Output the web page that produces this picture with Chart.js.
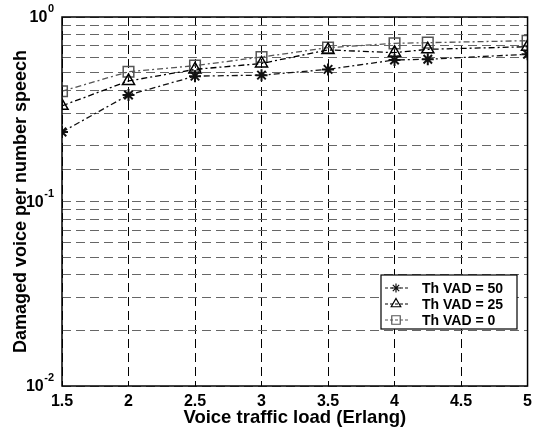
<!DOCTYPE html>
<html>
<head>
<meta charset="utf-8">
<script src="https://cdn.jsdelivr.net/npm/chart.js@4/dist/chart.umd.min.js"></script>
<style>
  html, body { margin: 0; padding: 0; background: #fff; }
  #wrap { width: 538px; height: 429px; }
</style>
</head>
<body>
<div id="wrap"><canvas id="graf"></canvas></div>
<script>
// datos
const cargaVoz = [1.5, 2, 2.5, 3, 3.5, 4, 4.25, 5];
const vad50 = [0.238, 0.378, 0.478, 0.484, 0.52, 0.585, 0.59, 0.628];
const vad25 = [0.33, 0.45, 0.52, 0.56, 0.663, 0.641, 0.668, 0.69];
const vad0 = [0.396, 0.505, 0.545, 0.607, 0.682, 0.72, 0.726, 0.744];
const etiquetas = ['Th VAD = 50', 'Th VAD = 25', 'Th VAD = 0'];
const ticksX = [1.5, 2, 2.5, 3, 3.5, 4, 4.5, 5];
const decadasY = [-2, -1, 0];

const fuente = '"Liberation Sans", Arial, sans-serif';
const rayaPunto = [6, 3, 2, 3];

function serie(nombre, valores, estilo, color, radio, grosor) {
    return {
        label: nombre,
        data: cargaVoz.map((x, i) => ({ x: x, y: valores[i] })),
        borderColor: color,
        backgroundColor: 'rgba(0,0,0,0)',
        borderWidth: 1.3,
        borderDash: rayaPunto,
        pointStyle: estilo,
        pointRadius: radio,
        pointBorderColor: color,
        pointBackgroundColor: 'rgba(0,0,0,0)',
        pointBorderWidth: grosor,
        tension: 0
    };
}

// marco, etiquetas 10^n del eje y y leyenda dibujada a mano
const marcoYLeyenda = {
    id: 'marcoYLeyenda',
    afterDraw(chart) {
        const { ctx, chartArea: a } = chart;
        ctx.save();
        ctx.strokeStyle = '#000';
        ctx.lineWidth = 1.5;
        ctx.setLineDash([]);
        ctx.strokeRect(a.left, a.top, a.right - a.left, a.bottom - a.top);

        // etiquetas del eje y con exponente
        const escY = chart.scales.y;
        ctx.fillStyle = '#000';
        ctx.textBaseline = 'middle';
        decadasY.forEach(e => {
            const y = escY.getPixelForValue(Math.pow(10, e));
            const exp = String(e);
            ctx.font = 'bold 11px ' + fuente;
            const wExp = ctx.measureText(exp).width;
            ctx.textAlign = 'left';
            const xExp = 54 - wExp;
            ctx.fillText(exp, xExp, y - 8);
            ctx.font = 'bold 16px ' + fuente;
            ctx.textAlign = 'right';
            ctx.fillText('10', xExp - 0.5, y + 1);
        });

        // caja de la leyenda
        const lx = 381, ly = 275, lw = 136, lh = 54;
        ctx.fillStyle = '#fff';
        ctx.fillRect(lx, ly, lw, lh);
        ctx.strokeStyle = '#000';
        ctx.lineWidth = 1.2;
        ctx.strokeRect(lx, ly, lw, lh);
        ctx.font = 'bold 14px ' + fuente;
        ctx.textAlign = 'left';
        chart.data.datasets.forEach((ds, i) => {
            const y = ly + 13 + i * 16;
            ctx.strokeStyle = ds.borderColor;
            ctx.lineWidth = 1.2;
            ctx.setLineDash([3, 2]);
            ctx.beginPath();
            ctx.moveTo(lx + 4, y);
            ctx.lineTo(lx + 27, y);
            ctx.stroke();
            ctx.setLineDash([]);
            ctx.fillStyle = 'rgba(0,0,0,0)';
            Chart.helpers.drawPoint(ctx, {
                pointStyle: ds.pointStyle, radius: ds.pointRadius - 1.5,
                borderWidth: 1.3, rotation: 0
            }, lx + 15, y);
            ctx.fillStyle = '#000';
            ctx.fillText(ds.label, lx + 41, y + 1);
        });
        ctx.restore();
    }
};

const ctx = document.getElementById('graf').getContext('2d');
new Chart(ctx, {
    type: 'line',
    data: {
        datasets: [
            serie(etiquetas[0], vad50, 'star', '#111', 6, 2),
            serie(etiquetas[1], vad25, 'triangle', '#000', 7, 1.5),
            serie(etiquetas[2], vad0, 'rect', '#555', 7.5, 1.5)
        ]
    },
    options: {
        responsive: true,
        maintainAspectRatio: false,
        animation: false,
        layout: { padding: { top: 17, right: 9, left: 0, bottom: 0 } },
        plugins: {
            legend: { display: false },
            tooltip: { enabled: false }
        },
        scales: {
            x: {
                type: 'linear',
                min: 1.5,
                max: 5,
                afterFit(s) { s.height = 43; },
                afterBuildTicks(s) { s.ticks = ticksX.map(v => ({ value: v })); },
                grid: { color: '#000', lineWidth: 1, drawTicks: false },
                border: { display: false, dash: [9, 5] },
                ticks: {
                    padding: 6,
                    color: '#000',
                    font: { family: fuente, size: 16, weight: 'bold' },
                    callback: v => String(v)
                },
                title: {
                    display: true,
                    text: 'Voice traffic load (Erlang)',
                    color: '#000',
                    padding: { top: 0, bottom: 0 },
                    font: { family: fuente, size: 18.5, weight: 'bold' }
                }
            },
            y: {
                type: 'logarithmic',
                min: 0.01,
                max: 1,
                afterFit(s) { s.width = 62; },
                grid: { color: '#666', lineWidth: 1, drawTicks: false },
                border: { display: false, dash: [9, 5] },
                ticks: {
                    autoSkip: false,
                    color: '#000',
                    callback: () => ''
                },
                title: {
                    display: true,
                    text: 'Damaged voice per number speech',
                    color: '#000',
                    padding: { top: 10, bottom: 0 },
                    font: { family: fuente, size: 18, weight: 'bold' }
                }
            }
        }
    },
    plugins: [marcoYLeyenda]
});
</script>
</body>
</html>
